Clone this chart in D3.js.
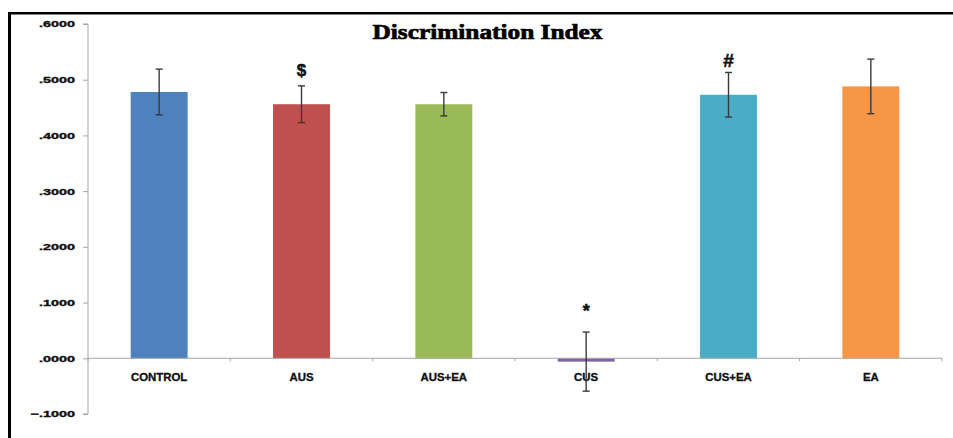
<!DOCTYPE html>
<html>
<head>
<meta charset="utf-8">
<script src="https://cdn.jsdelivr.net/npm/d3@7/dist/d3.min.js"></script>
<style>
  html, body { margin: 0; padding: 0; background: #fff; }
  svg { display: block; }
</style>
</head>
<body>
<svg id="chart" width="953" height="438"></svg>
<script>
// ---- data ----
const categories = ["CONTROL", "AUS", "AUS+EA", "CUS", "CUS+EA", "EA"];
const means      = [0.478, 0.456, 0.456, -0.006, 0.473, 0.488];
const errors     = [0.041, 0.033, 0.021, 0.053, 0.040, 0.049];
const colors     = ["#4F81BD", "#C0504D", "#9BBB59", "#8064A2", "#4BACC6", "#F79646"];
const yTicks     = [-0.1, 0, 0.1, 0.2, 0.3, 0.4, 0.5, 0.6];
const annotations = [
  { category: "AUS", symbol: "$" },
  { category: "CUS", symbol: "*" },
  { category: "CUS+EA", symbol: "#" }
];
const title = "Discrimination Index";

// ---- layout ----
const svg = d3.select("#chart");
const axisColor = "#a6a6a6";

const x = d3.scaleBand().domain(categories).range([88, 942]).paddingInner(0.6).paddingOuter(0.3);
const y = d3.scaleLinear().domain([-0.1, 0.6]).range([414, 24]);

// frame lines (top and left)
svg.append("rect").attr("x", 8).attr("y", 12).attr("width", 945).attr("height", 2.5).attr("fill", "#000");
svg.append("rect").attr("x", 8).attr("y", 12).attr("width", 3).attr("height", 426).attr("fill", "#000");

// title
svg.append("text")
  .attr("x", 372.5).attr("y", 39)
  .attr("font-family", "'Liberation Serif', 'Times New Roman', serif")
  .attr("font-weight", "bold").attr("font-size", 21).attr("fill", "#000")
  .attr("stroke", "#000").attr("stroke-width", 0.7)
  .attr("textLength", 230).attr("lengthAdjust", "spacingAndGlyphs")
  .text(title);

// y axis
const fmt = v => d3.format(".4f")(v).replace("0.", ".");
const yAxis = d3.axisLeft(y).tickValues(yTicks).tickSize(5).tickFormat(fmt);
const gy = svg.append("g").attr("transform", "translate(88,0)").call(yAxis);
gy.select(".domain").attr("stroke", axisColor).attr("d", `M-5,${y(0.6)}H0V${y(-0.1)}H-5`);
gy.selectAll(".tick line").attr("stroke", axisColor);
gy.selectAll(".tick text")
  .attr("x", -13).attr("dy", "0.32em")
  .attr("font-family", "'Liberation Sans', Arial, sans-serif")
  .attr("font-weight", "bold").attr("font-size", 9).attr("fill", "#111")
  .attr("stroke", "#111").attr("stroke-width", 0.35)
  .each(function() {
    const w = this.getComputedTextLength();
    d3.select(this).attr("textLength", w * 1.6).attr("lengthAdjust", "spacingAndGlyphs");
  });

// bars
svg.append("g").selectAll("rect").data(categories).join("rect")
  .attr("x", d => x(d))
  .attr("width", x.bandwidth())
  .attr("y", (d, i) => Math.min(y(means[i]), y(0)))
  .attr("height", (d, i) => Math.abs(y(means[i]) - y(0)))
  .attr("fill", (d, i) => colors[i]);

// x axis line and ticks
const xAxis = d3.axisBottom(x).tickSize(0).tickFormat("");
const gx = svg.append("g").attr("transform", `translate(0,${y(0)})`).call(xAxis);
gx.select(".domain").attr("stroke", axisColor).attr("d", `M88,0H942`);
gx.selectAll(".tick").remove();
const boundaries = d3.range(categories.length + 1).map(i => 88 + i * x.step());
gx.selectAll("line.sep").data(boundaries).join("line")
  .attr("class", "sep")
  .attr("x1", d => d).attr("x2", d => d).attr("y1", 0).attr("y2", 3)
  .attr("stroke", axisColor);

// x labels
svg.append("g").selectAll("text").data(categories).join("text")
  .attr("x", d => x(d) + x.bandwidth() / 2)
  .attr("y", 380.5)
  .attr("text-anchor", "middle")
  .attr("font-family", "'Liberation Sans', Arial, sans-serif")
  .attr("font-weight", "bold").attr("font-size", 10).attr("fill", "#111")
  .attr("stroke", "#111").attr("stroke-width", 0.3)
  .text(d => d)
  .each(function() {
    const w = this.getComputedTextLength();
    d3.select(this).attr("textLength", w * 1.14).attr("lengthAdjust", "spacingAndGlyphs");
  });

// error bars
const eb = svg.append("g").attr("stroke", "#3a3a3a").attr("stroke-width", 1.4);
categories.forEach((c, i) => {
  const cx = x(c) + x.bandwidth() / 2;
  const top = y(means[i] + errors[i]);
  const bot = y(means[i] - errors[i]);
  eb.append("line").attr("x1", cx).attr("x2", cx).attr("y1", top).attr("y2", bot);
  eb.append("line").attr("x1", cx - 3.5).attr("x2", cx + 3.5).attr("y1", top).attr("y2", top);
  eb.append("line").attr("x1", cx - 3.5).attr("x2", cx + 3.5).attr("y1", bot).attr("y2", bot);
});

// significance annotations
const symOffset = { "$": 10, "#": 5, "*": 15 };
const symSize = { "$": 17, "#": 19, "*": 18 };
svg.append("g").selectAll("text").data(annotations).join("text")
  .attr("x", d => x(d.category) + x.bandwidth() / 2)
  .attr("y", d => {
    const i = categories.indexOf(d.category);
    return y(means[i] + errors[i]) - symOffset[d.symbol];
  })
  .attr("text-anchor", "middle")
  .attr("font-family", "'Liberation Sans', Arial, sans-serif")
  .attr("font-weight", "bold")
  .attr("font-size", d => symSize[d.symbol])
  .attr("fill", "#111")
  .attr("stroke", "#111").attr("stroke-width", 0.5)
  .text(d => d.symbol);
</script>
</body>
</html>
